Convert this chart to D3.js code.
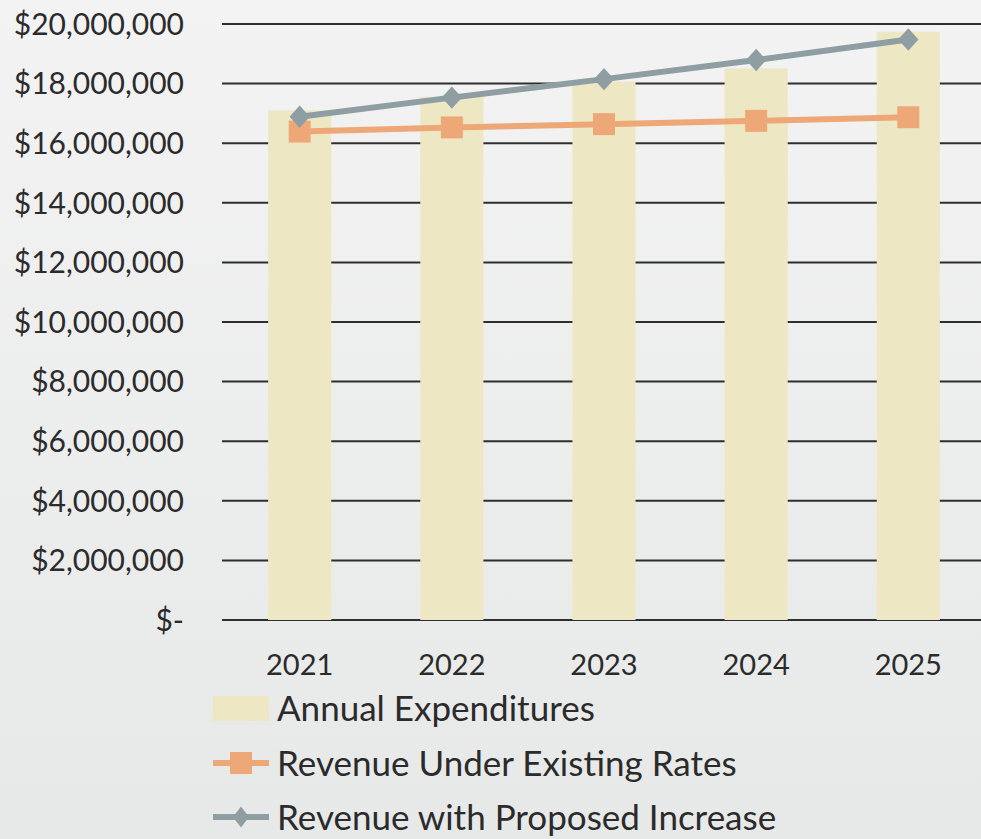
<!DOCTYPE html>
<html>
<head>
<meta charset="utf-8">
<script src="https://cdn.jsdelivr.net/npm/d3@7"></script>
<style>
  html, body { margin: 0; padding: 0; }
  body { width: 981px; height: 839px; overflow: hidden; background: #eaebeb; }
  text { font-family: Lato, "Open Sans", sans-serif; fill: #2b2b2b; }
</style>
</head>
<body>
<svg id="chart" width="981" height="839"></svg>
<script>
// Five-year outlook: expenditures vs. revenue scenarios
const years = ["2021", "2022", "2023", "2024", "2025"];
const annualExpenditures = [17100000, 17560000, 18070000, 18510000, 19740000];
const revenueExisting = [16390000, 16530000, 16640000, 16750000, 16870000];
const revenueProposed = [16890000, 17530000, 18150000, 18790000, 19480000];
const yTicks = [0, 2000000, 4000000, 6000000, 8000000, 10000000, 12000000, 14000000, 16000000, 18000000, 20000000];
const legendLabels = ["Annual Expenditures", "Revenue Under Existing Rates", "Revenue with Proposed Increase"];

const colors = { bar: "#ede8c3", existing: "#eea877", proposed: "#8e9ea3", grid: "#2e2e2e" };

const svg = d3.select("#chart");

// soft paper-like backdrop
const defs = svg.append("defs");
const bg = defs.append("linearGradient").attr("id", "bg").attr("x1", 0).attr("y1", 0).attr("x2", 0).attr("y2", 1);
bg.append("stop").attr("offset", "0%").attr("stop-color", "#f3f3f3");
bg.append("stop").attr("offset", "100%").attr("stop-color", "#e7e8e8");
svg.append("rect").attr("width", 981).attr("height", 839).attr("fill", "url(#bg)");

const plot = { left: 224, right: 984, top: 24, bottom: 620 };

const x = d3.scaleBand().domain(years).range([plot.left, plot.right]).paddingInner(0.585).paddingOuter(0.29);
const y = d3.scaleLinear().domain([0, 20000000]).range([plot.bottom, plot.top]);

const fmt = v => v === 0 ? "$-" : "$" + d3.format(",")(v);

// gridlines (drawn behind the bars)
svg.append("g")
  .selectAll("line").data(yTicks).join("line")
  .attr("x1", plot.left - 2).attr("x2", 981)
  .attr("y1", d => y(d)).attr("y2", d => y(d))
  .attr("stroke", colors.grid).attr("stroke-width", 2);

// y axis labels
const yAxis = d3.axisLeft(y).tickValues(yTicks).tickFormat(fmt).tickSize(0).tickPadding(0);
const yG = svg.append("g").attr("transform", `translate(184,0)`).call(yAxis);
yG.select(".domain").remove();
yG.selectAll("text").attr("font-size", 30).attr("dy", "0.34em").style("font-family", "Lato, 'Open Sans', sans-serif").attr("fill", "#2b2b2b");

// bars
svg.append("g")
  .selectAll("rect").data(years).join("rect")
  .attr("x", d => x(d)).attr("width", x.bandwidth())
  .attr("y", (d, i) => y(annualExpenditures[i]))
  .attr("height", (d, i) => y(0) - y(annualExpenditures[i]))
  .attr("fill", colors.bar);

// x axis labels
const xAxis = d3.axisBottom(x).tickSize(0).tickPadding(0);
const xG = svg.append("g").attr("transform", `translate(0,${plot.bottom + 32})`).call(xAxis);
xG.select(".domain").remove();
xG.selectAll("text").attr("font-size", 29).attr("dy", "0.78em").style("font-family", "Lato, 'Open Sans', sans-serif").attr("fill", "#2b2b2b");

const cx = d => x(d) + x.bandwidth() / 2;
const line = vals => d3.line().x((d, i) => cx(years[i])).y(d => y(d))(vals);

// revenue under existing rates
svg.append("path").attr("d", line(revenueExisting))
  .attr("fill", "none").attr("stroke", colors.existing).attr("stroke-width", 6);
const sq = 22;
svg.append("g").selectAll("rect").data(revenueExisting).join("rect")
  .attr("x", (d, i) => cx(years[i]) - sq / 2).attr("y", d => y(d) - sq / 2)
  .attr("width", sq).attr("height", sq).attr("fill", colors.existing);

// revenue with proposed increase
svg.append("path").attr("d", line(revenueProposed))
  .attr("fill", "none").attr("stroke", colors.proposed).attr("stroke-width", 6);
const diamond = d3.symbol().type(d3.symbolDiamond2).size(290);
svg.append("g").selectAll("path").data(revenueProposed).join("path")
  .attr("transform", (d, i) => `translate(${cx(years[i])},${y(d)}) scale(0.95,1.05)`)
  .attr("d", diamond).attr("fill", colors.proposed);

// legend
const legend = svg.append("g").attr("transform", "translate(213,0)");
const rows = [708, 763, 817];
const swW = 56;
legend.append("rect").attr("x", 0).attr("y", rows[0] - 12).attr("width", swW).attr("height", 25).attr("fill", colors.bar);

legend.append("line").attr("x1", 0).attr("x2", swW).attr("y1", rows[1]).attr("y2", rows[1])
  .attr("stroke", colors.existing).attr("stroke-width", 6);
legend.append("rect").attr("x", swW / 2 - 11).attr("y", rows[1] - 11).attr("width", 22).attr("height", 22).attr("fill", colors.existing);

legend.append("line").attr("x1", 0).attr("x2", swW).attr("y1", rows[2]).attr("y2", rows[2])
  .attr("stroke", colors.proposed).attr("stroke-width", 6);
legend.append("path").attr("transform", `translate(${swW / 2},${rows[2]}) scale(0.8,1.05)`)
  .attr("d", d3.symbol().type(d3.symbolDiamond2).size(260)).attr("fill", colors.proposed);

legend.selectAll("text.lg").data(legendLabels).join("text").attr("class", "lg")
  .attr("x", 64).attr("y", (d, i) => rows[i]).attr("dy", "0.36em")
  .attr("font-size", 35).text(d => d);
</script>
</body>
</html>
